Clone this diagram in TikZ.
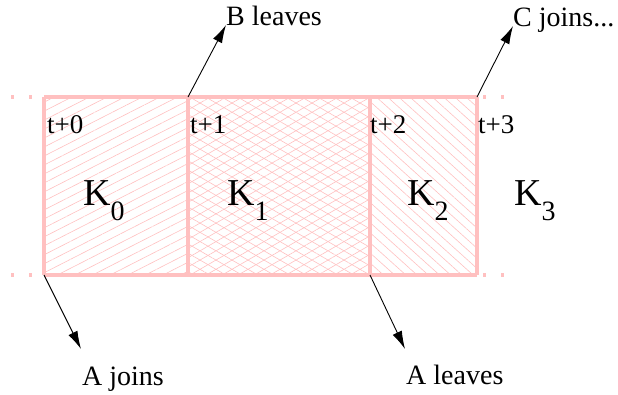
\documentclass[tikz,border=0pt]{standalone}
\usepackage{fontspec}
\setmainfont{Liberation Serif}
\usetikzlibrary{patterns.meta,arrows.meta}
\definecolor{slotpink}{RGB}{255,192,192}

\begin{document}
\begin{tikzpicture}[
    x=1pt, y=-1pt,
    slotline/.style={draw=slotpink, line width=4pt},
    stub/.style={slotpink, line width=4pt, dash pattern=on 2.5pt off 15.5pt},
    tick/.style={anchor=base west, inner sep=0pt,
        font=\fontsize{27}{30}\selectfont},
    event/.style={anchor=base west, inner sep=0pt,
        font=\fontsize{28}{30}\selectfont},
    keyname/.style={anchor=base west, inner sep=0pt,
        font=\fontsize{38}{40}\selectfont},
    arr/.style={-{Latex[length=18pt,width=10pt]}, line width=0.9pt}
]
\useasboundingbox (0,0) rectangle (618,394);

% hatched key periods
\fill[pattern={Lines[angle=27,distance=8pt,line width=0.6pt]}, pattern color=slotpink]
    (44,97) rectangle (188,275);
\fill[pattern={Lines[angle=30,distance=8pt,line width=0.6pt]}, pattern color=slotpink]
    (188,97) rectangle (370,275);
\fill[pattern={Lines[angle=-30,distance=8pt,line width=0.6pt]}, pattern color=slotpink]
    (188,97) rectangle (370,275);
\fill[pattern={Lines[angle=-42,distance=7.5pt,line width=0.6pt]}, pattern color=slotpink]
    (370,97) rectangle (477,275);

% corners
\coordinate (c0t) at (44,97);
\coordinate (c0b) at (44,275);
\coordinate (c1t) at (188,97);
\coordinate (c1b) at (188,275);
\coordinate (c2t) at (370,97);
\coordinate (c2b) at (370,275);
\coordinate (c3t) at (477,97);
\coordinate (c3b) at (477,275);

\draw[slotline] (c0t) -- (c3t) (c0b) -- (c3b);
\draw[slotline] (c0t) -- (c0b) (c1t) -- (c1b) (c2t) -- (c2b) (c3t) -- (c3b);
\draw[stub] (11,97) -- (33,97) (11,275) -- (33,275);
\draw[stub] (483,97) -- (505,97) (483,275) -- (505,275);

% time marks
\node[tick] (t0) at (47,133) {t+0};
\node[tick] (t1) at (190,133) {t+1};
\node[tick] (t2) at (370,133) {t+2};
\node[tick] (t3) at (478,133) {t+3};

% keys
\node[keyname] (k0) at (83,205) {K\lower15pt\hbox{\fontsize{28}{30}\selectfont 0}};
\node[keyname] (k1) at (227,205) {K\lower15pt\hbox{\fontsize{28}{30}\selectfont 1}};
\node[keyname] (k2) at (407,205) {K\lower15pt\hbox{\fontsize{28}{30}\selectfont 2}};
\node[keyname] (k3) at (514,205) {K\lower15pt\hbox{\fontsize{28}{30}\selectfont 3}};

% events
\node[event] (bleaves) at (226,25) {B leaves};
\node[event] (cjoins) at (513,26) {C joins...};
\node[event] (ajoins) at (82,385) {A joins};
\node[event] (aleaves) at (406,384) {A leaves};

\coordinate (ajtip) at (81,349);
\coordinate (altip) at (405,349);

\draw[arr] (c1t) -- (bleaves.base west);
\draw[arr] (c3t) -- (cjoins.base west);
\draw[arr] (c0b) -- (ajtip);
\draw[arr] (c2b) -- (altip);
\end{tikzpicture}
\end{document}
